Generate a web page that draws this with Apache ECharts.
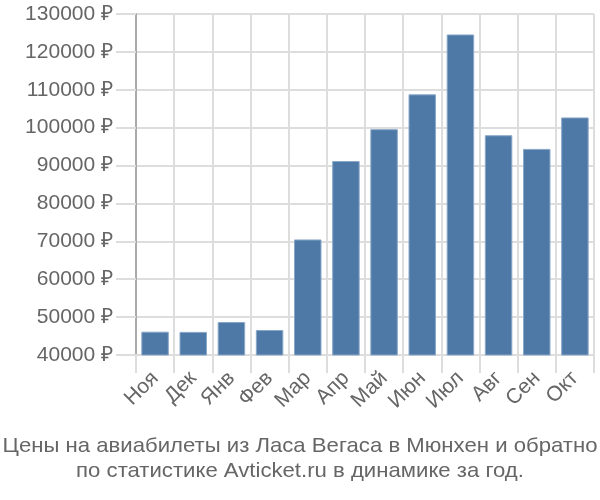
<!DOCTYPE html>
<html><head><meta charset="utf-8">
<script src="https://cdn.jsdelivr.net/npm/echarts@6/dist/echarts.min.js"></script>
<style>html,body{margin:0;padding:0;background:#fff}#c{width:600px;height:500px}</style>
</head><body><div id="c"></div>
<script>
const categories = ['Ноя','Дек','Янв','Фев','Мар','Апр','Май','Июн','Июл','Авг','Сен','Окт'];
const prices = [46150, 46100, 48700, 46600, 70500, 91200, 99600, 108800, 124600, 98000, 94400, 102700];
const titleLines = ['Цены на авиабилеты из Ласа Вегаса в Мюнхен и обратно', 'по статистике Avticket.ru в динамике за год.'];
const yMin = 40000, yMax = 130000, yStep = 10000;

const titleFont = '21px "Liberation Sans"';
const cv = document.createElement('canvas').getContext('2d');
cv.font = titleFont;
const w1 = cv.measureText(titleLines[0]).width;
const sx = 595 / w1;

const chart = echarts.init(document.getElementById('c'));
chart.setOption({
  animation: false,
  graphic: titleLines.map((t, i) => ({
    type: 'text', x: 300, y: 446 + i * 25, scaleX: sx,
    style: {text: t, font: titleFont, fill: '#666', align: 'center', verticalAlign: 'middle'}
  })),
  grid: {left: 136, right: 6, top: 14, bottom: 145},
  xAxis: {
    type: 'category', data: categories,
    axisLine: {lineStyle: {color: '#ddd', width: 2}},
    axisTick: {show: true, length: 18, lineStyle: {color: '#ddd', width: 2}},
    splitLine: {show: true, lineStyle: {color: '#ddd', width: 2}},
    axisLabel: {rotate: 45, fontFamily: 'Liberation Sans', fontSize: 21, color: '#666', margin: 20, interval: 0}
  },
  yAxis: {
    type: 'value', min: yMin, max: yMax, interval: yStep,
    axisLine: {show: true, lineStyle: {color: '#aaa', width: 2}},
    axisTick: {show: true, length: 20, lineStyle: {color: '#ddd', width: 2}},
    splitLine: {show: true, lineStyle: {color: '#ddd', width: 2}},
    axisLabel: {formatter: v => v + ' ₽', fontFamily: 'Liberation Sans', fontSize: 21, color: '#666', margin: 23}
  },
  series: [{
    type: 'bar', data: prices, barCategoryGap: '28%',
    itemStyle: {color: '#4e79a7', borderColor: '#8aa8c8', borderWidth: 1}
  }]
});
</script></body></html>
